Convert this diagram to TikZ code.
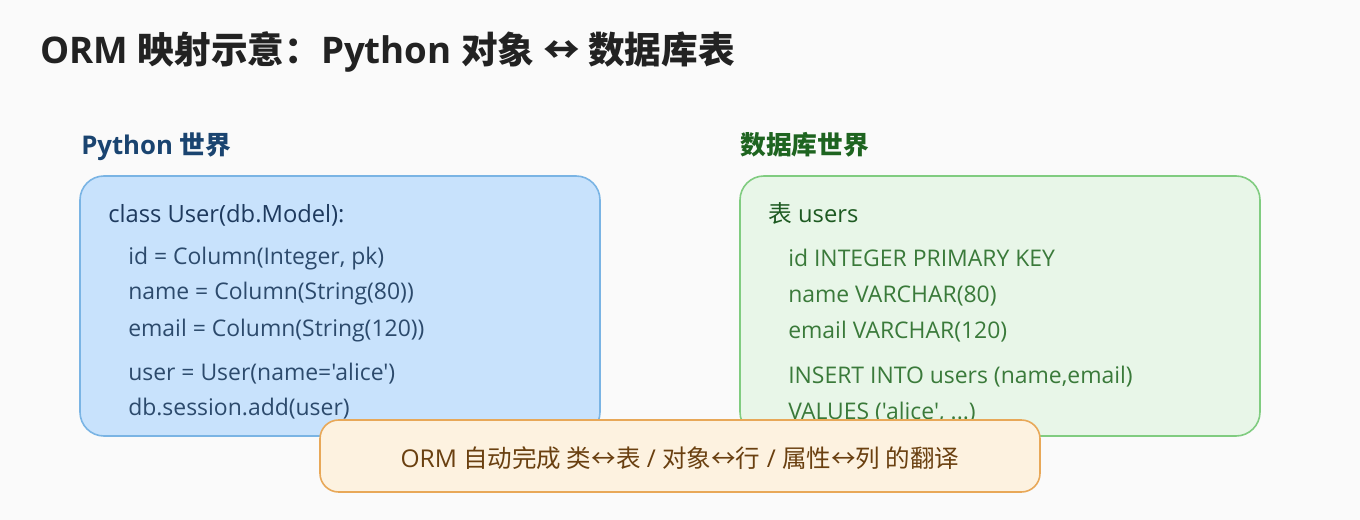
\documentclass[tikz,border=0pt]{standalone}
\usepackage{fontspec}
\setmainfont{Open Sans}[Ligatures=TeXOff]
\newfontfamily\cjk{Noto Sans CJK SC}[Ligatures=TeXOff]
\definecolor{bgc}{HTML}{FAFAFA}
\definecolor{titlec}{HTML}{222222}
\definecolor{pyfill}{HTML}{C8E2FC}
\definecolor{pyline}{HTML}{7AB4E4}
\definecolor{pyhead}{HTML}{1A4470}
\definecolor{pytext}{HTML}{1E3A5E}
\definecolor{pysub}{HTML}{2C4A6C}
\definecolor{dbfill}{HTML}{E8F6E8}
\definecolor{dbline}{HTML}{80CC80}
\definecolor{dbhead}{HTML}{1E6420}
\definecolor{dbtext}{HTML}{1E5A22}
\definecolor{dbsub}{HTML}{3A7A3A}
\definecolor{notefill}{HTML}{FDF2E0}
\definecolor{noteline}{HTML}{E8A858}
\definecolor{notetext}{HTML}{6A4010}
\tikzset{
  txt/.style={inner sep=0pt, anchor=base west},
  panel/.style={rounded corners=18, line width=1.2pt},
}
\begin{document}
\begin{tikzpicture}[x=0.75pt,y=-0.75pt]
\fill[bgc] (0,0) rectangle (1360,520);
\useasboundingbox (0,0) rectangle (1360,520);
% title
\node[txt, text=titlec, font=\fontsize{27.5}{33}\selectfont\bfseries] (title) at (40,64) {ORM {\cjk 映射示意：}Python {\cjk 对象 ↔ 数据库表}};
% section labels
\node[txt, text=pyhead, font=\fontsize{19.3}{23}\selectfont\bfseries] (pylabel) at (81,155) {Python {\cjk 世界}};
\node[txt, text=dbhead, font=\fontsize{19.3}{23}\selectfont\bfseries\cjk] (dblabel) at (740,155) {数据库世界};
% panels
\draw[panel, fill=pyfill, draw=pyline] (80,176) rectangle (600,436);
\draw[panel, fill=dbfill, draw=dbline] (740,176) rectangle (1260,436);
% python text
\begin{scope}[every node/.style={txt, text=pysub, font=\fontsize{17.2}{21}\selectfont}]
\node[text=pytext, font=\fontsize{17.8}{22}\selectfont] (py0) at (108,223) {class User(db.Model):};
\node (py1) at (128,265) {id = Column(Integer, pk)};
\node (py2) at (128,300) {name = Column(String(80))};
\node (py3) at (128,336) {email = Column(String(120))};
\node (py4) at (128,380) {user = User(name='alice')};
\node (py5) at (128,415) {db.session.add(user)};
\end{scope}
% db text
\begin{scope}[every node/.style={txt, text=dbsub, font=\fontsize{17.2}{21}\selectfont}]
\node[text=dbtext, font=\fontsize{17.8}{22}\selectfont] (db0) at (768,223) {{\cjk 表} users};
\node (db1) at (788,267) {id INTEGER PRIMARY KEY};
\node (db2) at (788,303) {name VARCHAR(80)};
\node (db3) at (788,339) {email VARCHAR(120)};
\node (db4) at (788,383) {INSERT INTO users (name,email)};
\node (db5) at (788,419) {VALUES ('alice', ...)};
\end{scope}
% note
\draw[rounded corners=14, line width=1.2pt, fill=notefill, draw=noteline] (320,420) rectangle (1040,492);
\node[text=notetext, font=\fontsize{18.4}{22}\selectfont, inner sep=0pt] (note) at (680,458) {ORM {\cjk 自动完成 类↔表} / {\cjk 对象↔行} / {\cjk 属性↔列 的翻译}};
\end{tikzpicture}
\end{document}
